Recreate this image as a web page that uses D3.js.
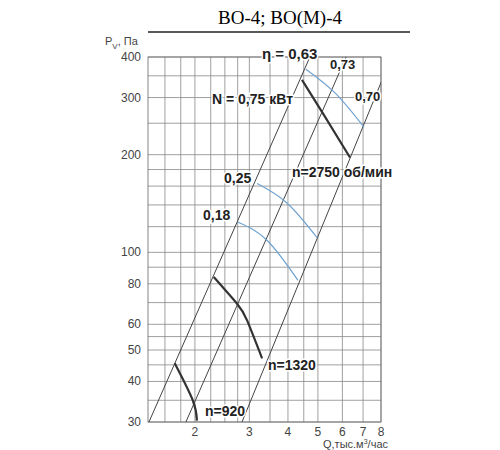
<!DOCTYPE html>
<html><head><meta charset="utf-8">
<script src="https://cdn.jsdelivr.net/npm/d3@7"></script>
<style>body{margin:0;background:#fff}</style>
</head><body>
<script>
// tick labels and grid
var xTicks = [2, 3, 4, 5, 6, 7, 8];
var xGrid = [1.6, 1.8, 2, 2.25, 2.5, 2.75, 3, 3.5, 4, 4.5, 5, 6, 7, 8];
var yTicks = [30, 40, 50, 60, 80, 100, 200, 300, 400];
var yGrid = [30, 35, 40, 45, 50, 55, 60, 70, 80, 90, 100, 120, 140, 160, 180, 200, 250, 300, 350, 400];

// system lines [Q at P=30, Q at P=400]
var sysLines = [[1.42, 4.71], [1.87, 6.17], [2.84, 8.65]];

// curves [Q, P]
var n2750 = [[4.44, 340], [5.19, 268], [6.35, 196]];
var n1320 = [[2.30, 84], [2.73, 69.7], [2.95, 61.7], [3.30, 47.1]];
var n920 = [[1.72, 45.5], [1.97, 34.9], [2.03, 30.3]];
var eta2750 = [[4.57, 367], [5.68, 310], [7.05, 243]];
var eta025 = [[3.18, 163], [3.97, 142], [4.97, 111]];
var eta018 = [[2.75, 124], [3.42, 109], [4.31, 82]];

var width = 500, height = 450;
var svg = d3.select("body").append("svg").attr("width", width).attr("height", height);

var x = d3.scaleLog().domain([1.41, 8]).range([148, 381]);
var y = d3.scaleLog().domain([30, 400]).range([422, 57]);

var defs = svg.append("defs");
defs.append("clipPath").attr("id", "plot").append("rect")
    .attr("x", 148).attr("y", 57).attr("width", 233).attr("height", 365);

// title
svg.append("text").attr("x", 280).attr("y", 24).attr("text-anchor", "middle")
    .attr("font-family", "Liberation Serif").attr("font-size", 19).text("ВО-4; ВО(М)-4");
svg.append("line").attr("x1", 148).attr("x2", 410).attr("y1", 32).attr("y2", 32)
    .attr("stroke", "#222").attr("stroke-width", 1.5);

var g = svg.append("g");
g.selectAll(".vg").data(xGrid).enter().append("line")
    .attr("x1", d => x(d)).attr("x2", d => x(d)).attr("y1", 57).attr("y2", 422)
    .attr("stroke", "#888").attr("stroke-width", 0.8);
g.selectAll(".hg").data(yGrid).enter().append("line")
    .attr("y1", d => y(d)).attr("y2", d => y(d)).attr("x1", 148).attr("x2", 381)
    .attr("stroke", "#888").attr("stroke-width", 0.8);
g.append("rect").attr("x", 148).attr("y", 57).attr("width", 233).attr("height", 365)
    .attr("fill", "none").attr("stroke", "#666").attr("stroke-width", 0.8);

var font = "Liberation Sans, Arial, sans-serif";
g.selectAll(".xt").data(xTicks).enter().append("text")
    .attr("x", d => x(d)).attr("y", 436).attr("text-anchor", "middle")
    .attr("font-family", font).attr("font-size", 12).attr("fill", "#444").text(d => d);
g.selectAll(".yt").data(yTicks).enter().append("text")
    .attr("x", 141).attr("y", d => y(d) + 4).attr("text-anchor", "end")
    .attr("font-family", font).attr("font-size", 12).attr("fill", "#444").text(d => d);

var plot = svg.append("g").attr("clip-path", "url(#plot)");
plot.selectAll(".sys").data(sysLines).enter().append("line")
    .attr("x1", d => x(d[0])).attr("y1", y(30)).attr("x2", d => x(d[1])).attr("y2", y(400))
    .attr("stroke", "#444").attr("stroke-width", 1);

var line = d3.line().x(d => x(d[0])).y(d => y(d[1])).curve(d3.curveNatural);
[eta2750, eta025, eta018].forEach(c => plot.append("path").attr("d", line(c))
    .attr("fill", "none").attr("stroke", "#6fa3d0").attr("stroke-width", 1.2));
[n2750, n1320, n920].forEach(c => plot.append("path").attr("d", line(c))
    .attr("fill", "none").attr("stroke", "#333").attr("stroke-width", 2.2));

function label(tx, lx, ly, size, bold) {
    svg.append("text").attr("x", lx).attr("y", ly).attr("font-family", font)
        .attr("font-size", size).attr("font-weight", bold ? "bold" : "normal")
        .attr("fill", "#222").attr("stroke", "#fff").attr("stroke-width", 3)
        .attr("paint-order", "stroke").text(tx);
}
label("η = 0,63", 262, 59, 15, true);
label("0,73", 330, 69, 13, true);
label("0,70", 355, 101, 13, true);
label("N = 0,75 кВт", 212, 104, 14, true);
label("n=2750 об/мин", 292, 177, 14, true);
label("0,25", 224, 183, 14, true);
label("0,18", 203, 220, 14, true);
label("n=1320", 268, 370, 14, true);
label("n=920", 205, 416, 14, true);

var pv = svg.append("text").attr("x", 105).attr("y", 45).attr("font-family", font)
    .attr("font-size", 11).attr("fill", "#444");
pv.append("tspan").text("P");
pv.append("tspan").attr("font-size", 8).attr("dy", 4).text("V");
pv.append("tspan").attr("dy", -4).text(", Па");

var q = svg.append("text").attr("x", 323).attr("y", 448).attr("font-family", font)
    .attr("font-size", 11).attr("fill", "#444");
q.append("tspan").text("Q,тыс.м");
q.append("tspan").attr("font-size", 7).attr("dy", -4).text("3");
q.append("tspan").attr("dy", 4).text("/час");
</script>
</body></html>
